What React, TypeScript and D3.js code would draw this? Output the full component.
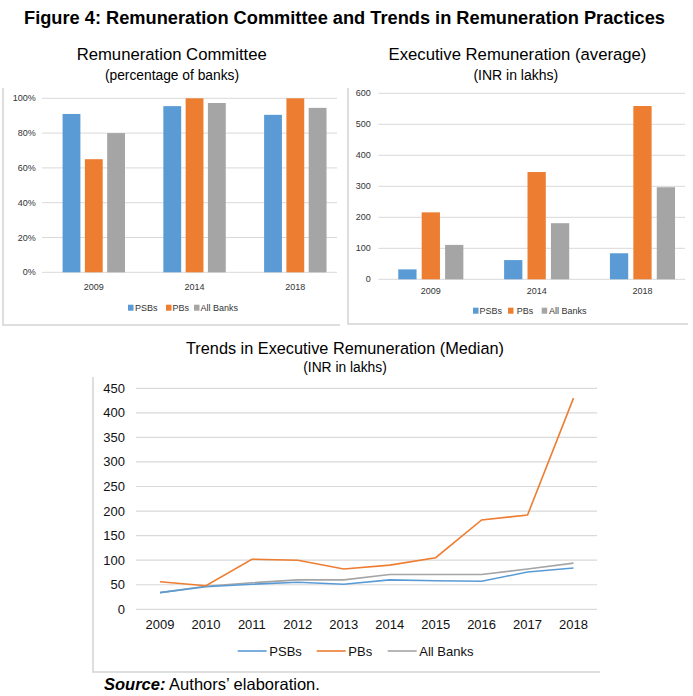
import React from "react";
import * as d3 from "d3";

const barYears = ["2009", "2014", "2018"];
const seriesNames = ["PSBs", "PBs", "All Banks"];
const colors = ["#5B9BD5", "#ED7D31", "#A5A5A5"];

const committeePSBs = [0.91, 0.955, 0.905];
const committeePBs = [0.65, 1.0, 1.0];
const committeeAll = [0.8, 0.973, 0.945];

const avgPSBs = [32, 62, 84];
const avgPBs = [216, 346, 559];
const avgAll = [111, 181, 297];

const pctTicks = [0, 0.2, 0.4, 0.6, 0.8, 1.0];
const avgTicks = [0, 100, 200, 300, 400, 500, 600];

const lineYears = ["2009", "2010", "2011", "2012", "2013", "2014", "2015", "2016", "2017", "2018"];
const medianPSBs = [34, 46, 51, 55, 51, 60, 58, 57, 76, 84];
const medianPBs = [56, 48, 102, 100, 82, 90, 105, 182, 192, 430];
const medianAll = [34, 47, 54, 60, 60, 71, 71, 71, 82, 94];
const medianTicks = [0, 50, 100, 150, 200, 250, 300, 350, 400, 450];

const FONT = "'Liberation Sans', Arial, sans-serif";
const GRID = "#d9d9d9";
const BORDER = "#d4d4d4";

type BarChartProps = {
  values: number[][];
  yDomain: [number, number];
  yRange: [number, number];
  ticks: number[];
  fmt: (v: number) => string;
  groupRange: [number, number];
  padInner: number;
  padOuter: number;
  gridX: [number, number];
  labelX: number;
  xLabelY: number;
  legendY: number;
  legendSquares: number[];
  legendTexts: number[];
};

function BarChart(p: BarChartProps) {
  const y = d3.scaleLinear().domain(p.yDomain).range(p.yRange);
  const xg = d3.scaleBand().domain(barYears).range(p.groupRange).padding(0);
  const xi = d3
    .scaleBand()
    .domain(seriesNames)
    .range([0, xg.bandwidth()])
    .paddingInner(p.padInner)
    .paddingOuter(p.padOuter);
  return (
    <g>
      {p.ticks.map((t) => (
        <g key={t}>
          <line x1={p.gridX[0]} x2={p.gridX[1]} y1={y(t)} y2={y(t)} stroke={GRID} strokeWidth={1} />
          <text x={p.labelX} y={y(t)} textAnchor="end" dominantBaseline="central" fontSize={9} fill="#333">
            {p.fmt(t)}
          </text>
        </g>
      ))}
      {barYears.map((yr, i) => (
        <g key={yr}>
          {seriesNames.map((s, j) => {
            const v = p.values[j][i];
            return (
              <rect
                key={s}
                x={(xg(yr) as number) + (xi(s) as number)}
                y={y(v)}
                width={xi.bandwidth()}
                height={y(0) - y(v)}
                fill={colors[j]}
              />
            );
          })}
          <text
            x={(xg(yr) as number) + xg.bandwidth() / 2}
            y={p.xLabelY}
            textAnchor="middle"
            dominantBaseline="central"
            fontSize={9}
            fill="#333"
          >
            {yr}
          </text>
        </g>
      ))}
      {seriesNames.map((s, j) => (
        <g key={s}>
          <rect x={p.legendSquares[j]} y={p.legendY - 3} width={5.5} height={6} fill={colors[j]} />
          <text x={p.legendTexts[j]} y={p.legendY} dominantBaseline="central" fontSize={9} fill="#333">
            {s}
          </text>
        </g>
      ))}
    </g>
  );
}

function LineChart() {
  const y = d3.scaleLinear().domain([0, 450]).range([609.3, 388.3]);
  const x = d3.scalePoint().domain(lineYears).range([160, 573.5]);
  const series = [medianPSBs, medianPBs, medianAll];
  const line = d3
    .line<number>()
    .x((_, i) => x(lineYears[i]) as number)
    .y((d) => y(d));
  const legendLine = [237.7, 316.7, 387.7];
  const legendText = [269.3, 348.3, 419.3];
  const order = [2, 0, 1];
  return (
    <g>
      {medianTicks.map((t) => (
        <g key={t}>
          <line x1={136} x2={597} y1={y(t)} y2={y(t)} stroke={GRID} strokeWidth={1.2} />
          <text x={125} y={y(t)} textAnchor="end" dominantBaseline="central" fontSize={13} fill="#111">
            {t}
          </text>
        </g>
      ))}
      {lineYears.map((yr) => (
        <text key={yr} x={x(yr)} y={624} textAnchor="middle" dominantBaseline="central" fontSize={13} fill="#111">
          {yr}
        </text>
      ))}
      {order.map((j) => (
        <path key={j} d={line(series[j]) || ""} fill="none" stroke={colors[j]} strokeWidth={1.6} />
      ))}
      {seriesNames.map((s, j) => (
        <g key={s}>
          <line x1={legendLine[j]} x2={legendLine[j] + 29} y1={651} y2={651} stroke={colors[j]} strokeWidth={1.6} />
          <text x={legendText[j]} y={651} dominantBaseline="central" fontSize={13} fill="#111">
            {s}
          </text>
        </g>
      ))}
    </g>
  );
}

export default function App() {
  return (
    <svg
      width={693}
      height={696}
      style={{ position: "absolute", left: 0, top: 0, background: "#fff" }}
      fontFamily={FONT}
    >
      <rect x={0} y={0} width={693} height={696} fill="#fff" />
      <text
        x={344.5}
        y={17.5}
        textAnchor="middle"
        dominantBaseline="central"
        fontSize={17.5}
        fontWeight="bold"
        fill="#000"
        textLength={641}
        lengthAdjust="spacingAndGlyphs"
      >
        Figure 4: Remuneration Committee and Trends in Remuneration Practices
      </text>

      {/* panel borders */}
      <polyline points="3,88 3,325 340,325" fill="none" stroke={BORDER} strokeWidth={1.5} />
      <polyline points="348,88 348,324 688,324" fill="none" stroke={BORDER} strokeWidth={1.5} />
      <polyline points="93,377 93,672 600,672" fill="none" stroke={BORDER} strokeWidth={1.5} />

      {/* top-left */}
      <text x={171.7} y={54} textAnchor="middle" dominantBaseline="central" fontSize={16.7} fill="#000">
        Remuneration Committee
      </text>
      <text x={172} y={75} textAnchor="middle" dominantBaseline="central" fontSize={13.8} fill="#000">
        (percentage of banks)
      </text>
      <BarChart
        values={[committeePSBs, committeePBs, committeeAll]}
        yDomain={[0, 1]}
        yRange={[272.3, 98.3]}
        ticks={pctTicks}
        fmt={(v) => `${Math.round(v * 100)}%`}
        groupRange={[43.4, 345.7]}
        padInner={0.2}
        padOuter={0.86}
        gridX={[42, 337]}
        labelX={35.7}
        xLabelY={286.7}
        legendY={307.7}
        legendSquares={[128, 166, 194]}
        legendTexts={[135, 172.5, 200.5]}
      />

      {/* top-right */}
      <text x={517.5} y={54} textAnchor="middle" dominantBaseline="central" fontSize={16.7} fill="#000">
        Executive Remuneration (average)
      </text>
      <text x={515.8} y={75} textAnchor="middle" dominantBaseline="central" fontSize={14} fill="#000">
        (INR in lakhs)
      </text>
      <BarChart
        values={[avgPSBs, avgPBs, avgAll]}
        yDomain={[0, 600]}
        yRange={[279.3, 93.3]}
        ticks={avgTicks}
        fmt={(v) => `${v}`}
        groupRange={[377.9, 695.4]}
        padInner={0.22}
        padOuter={0.87}
        gridX={[378.3, 685]}
        labelX={370.7}
        xLabelY={290.7}
        legendY={310.7}
        legendSquares={[473, 508, 541.7]}
        legendTexts={[479.5, 516.7, 549]}
      />

      {/* bottom */}
      <text x={345} y={348} textAnchor="middle" dominantBaseline="central" fontSize={16.3} fill="#000">
        Trends in Executive Remuneration (Median)
      </text>
      <text x={345} y={367} textAnchor="middle" dominantBaseline="central" fontSize={13.8} fill="#000">
        (INR in lakhs)
      </text>
      <LineChart />

      <text x={104} y={684} dominantBaseline="central" fontSize={16.5} fill="#000">
        <tspan fontWeight="bold" fontStyle="italic">Source:</tspan>
        <tspan> Authors’ elaboration.</tspan>
      </text>
    </svg>
  );
}
